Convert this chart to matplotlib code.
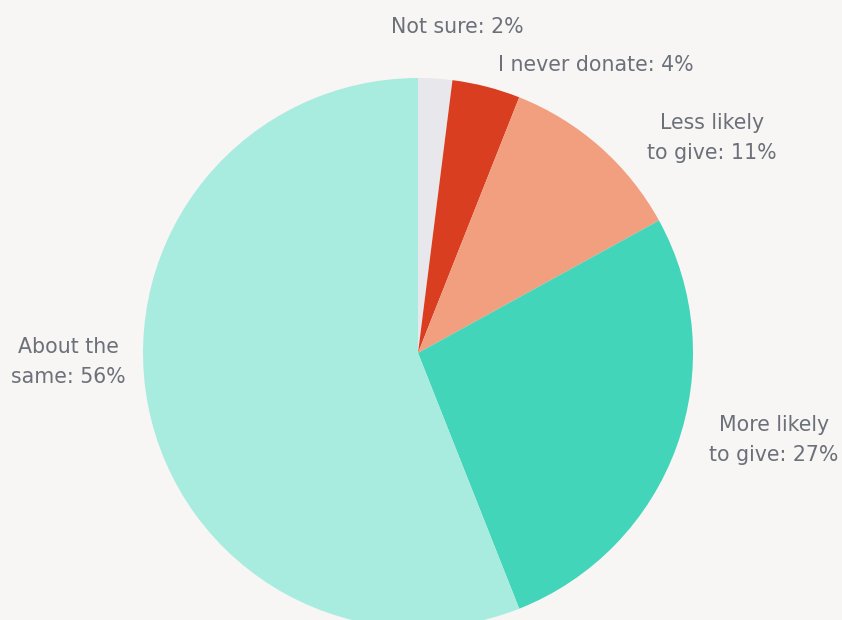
import matplotlib.pyplot as plt

# Share of respondents by how their giving would change
categories = ['Not sure', 'I never donate', 'Less likely\nto give', 'More likely\nto give', 'About the\nsame']
values = [2, 4, 11, 27, 56]
colors = ['#e8e8ec', '#d93e20', '#f29f80', '#42d5b9', '#a8ece0']

# label anchor points in pixel coords (x, y from top)
label_pos = [(457, 27), (596, 65), (712, 138), (774, 440), (68, 362)]

W, H = 842, 620
fig = plt.figure(figsize=(W / 100, H / 100), dpi=100)
fig.patch.set_facecolor('#f8f6f4')
ax = fig.add_axes([0, 0, 1, 1])
ax.set_facecolor('#f8f6f4')

ax.pie(values, colors=colors, startangle=90, counterclock=False,
       center=(418, H - 353), radius=275,
       wedgeprops={'linewidth': 0})

for cat, val, (px, py) in zip(categories, values, label_pos):
    ax.text(px, H - py, f'{cat}: {val}%', ha='center', va='center',
            fontsize=14.8, color='#6b7079', family=['DejaVu Sans'],
            linespacing=1.6)

ax.set_xlim(0, W)
ax.set_ylim(0, H)
ax.set_aspect('equal')
ax.axis('off')

fig.savefig('out.png', dpi=100, facecolor=fig.get_facecolor())
